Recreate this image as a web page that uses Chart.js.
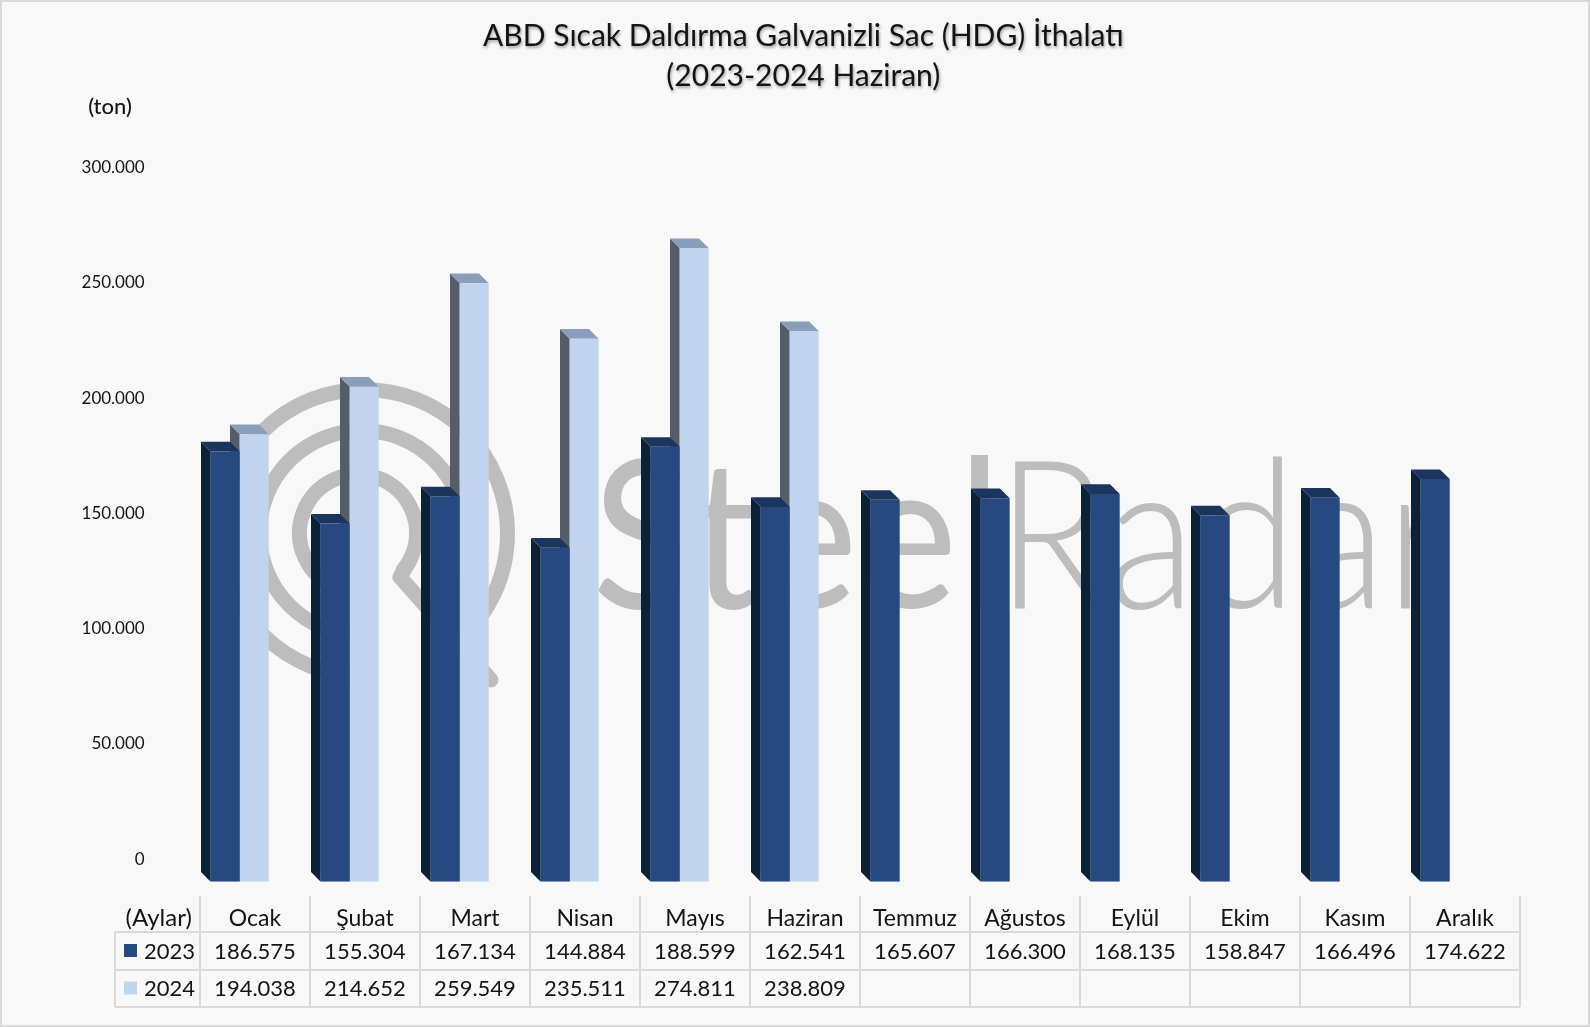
<!DOCTYPE html>
<html lang="tr">
<head>
<meta charset="utf-8">
<title>ABD Sıcak Daldırma Galvanizli Sac (HDG) İthalatı</title>
<script src="https://cdn.jsdelivr.net/npm/chart.js@4"></script>
<style>
html,body{margin:0;padding:0;background:#f8f8f8}
#wrap{position:relative;width:1590px;height:1027px}
</style>
</head>
<body>
<div id="wrap"><canvas id="c"></canvas></div>
<script>
const months = ['Ocak','Şubat','Mart','Nisan','Mayıs','Haziran','Temmuz','Ağustos','Eylül','Ekim','Kasım','Aralık'];
const values2023 = [186575,155304,167134,144884,188599,162541,165607,166300,168135,158847,166496,174622];
const values2024 = [194038,214652,259549,235511,274811,238809,null,null,null,null,null,null];
const seriesNames = ['2023','2024'];
const titleLines = ['ABD Sıcak Daldırma Galvanizli Sac (HDG) İthalatı','(2023-2024 Haziran)'];
const yTickStep = 50000;
const yMax = 300000;

const FONT = 'Lato, Carlito, Calibri, sans-serif';
const INK = '#141414';
const GRID = '#d9d9d9';
const DEPTH = 9.7;
const TABLE_SHIFT = 15.3;   // table cells sit to the right of the bars' front faces
const C23 = {front:'#264a7f', side:'#0c2038', top:'#1b355f'};
const C24 = {front:'#c1d4ee', side:'#555e68', top:'#8a9eba'};
const fmt = v => String(v).replace(/\B(?=(\d{3})+(?!\d))/g,'.');

function poly(ctx, pts, fill){
  ctx.beginPath();
  pts.forEach((p,i)=> i?ctx.lineTo(p[0],p[1]):ctx.moveTo(p[0],p[1]));
  ctx.closePath(); ctx.fillStyle = fill; ctx.fill();
}

const backdrop = {
  id:'backdrop',
  beforeDraw(chart){
    const ctx = chart.ctx, w = chart.width, h = chart.height;
    ctx.save();
    ctx.fillStyle = '#f8f8f8'; ctx.fillRect(0,0,w,h);
    ctx.strokeStyle = GRID; ctx.lineWidth = 2; ctx.strokeRect(1,1,w-2,h-2);
    ctx.restore();
    // text shadow on the title block, and its centring over the plot
    const t = chart.titleBlock;
    if (t && !t._wrapped){
      const d = t.draw.bind(t);
      t.draw = function(){
        const c = this.ctx; c.save();
        c.translate(16,0);
        c.shadowColor='rgba(0,0,0,.35)'; c.shadowBlur=3; c.shadowOffsetX=1; c.shadowOffsetY=1.5;
        d(); c.restore();
      };
      t._wrapped = true;
    }
  },
  beforeDatasetsDraw(chart){
    const ctx = chart.ctx;
    ctx.save();
    // watermark logo
    ctx.strokeStyle = '#bdbdbd'; ctx.lineWidth = 15; ctx.lineCap='round'; ctx.lineJoin='round';
    const cy=533, rad=Math.PI/180;
    [[364,143.5,90,394],[362,102.5,90,380],[358,58.5,110,400]].forEach(([cx,r,a,b])=>{
      ctx.beginPath(); ctx.arc(cx,cy,r,a*rad,b*rad); ctx.stroke();
    });
    ctx.beginPath(); ctx.moveTo(410,560); ctx.lineTo(400,577); ctx.lineTo(491,680); ctx.stroke();
    // watermark word
    ctx.beginPath(); ctx.rect(0,0,1449,1027); ctx.clip();
    ctx.fillStyle = '#bdbdbd'; ctx.textAlign='left'; ctx.textBaseline='alphabetic';
    ctx.font = '400 208px '+FONT;
    ctx.fillText('Steel',592,608,410);
    ctx.font = '300 208px '+FONT;
    ctx.fillText('Radar',996,608,455);
    ctx.restore();
  },
  beforeDatasetDraw(chart,args){
    const ctx = chart.ctx, col = args.index===0?C23:C24;
    ctx.save();
    args.meta.data.forEach((b,i)=>{
      const raw = chart.data.datasets[args.index].data[i];
      if (raw==null) return;
      const l=b.x-b.width/2, r=b.x+b.width/2, t=b.y, bs=b.base, d=DEPTH;
      poly(ctx,[[l-d,t-d],[l,t],[l,bs],[l-d,bs-d]],col.side);
      poly(ctx,[[l-d,t-d],[r-d,t-d],[r,t],[l,t]],col.top);
    });
    ctx.restore();
  },
  afterDraw(chart){
    const ctx = chart.ctx, x = chart.scales.x;
    ctx.save();
    const L=115, C0=x.getPixelForValue(0)+TABLE_SHIFT-55, R=x.getPixelForValue(11)+TABLE_SHIFT+55;
    const yTop=896, y1=932, y2=970, y3=1007;
    ctx.strokeStyle=GRID; ctx.lineWidth=2;
    ctx.beginPath();
    [y1,y2,y3].forEach(y=>{ctx.moveTo(L,y);ctx.lineTo(R,y);});
    ctx.moveTo(L,y1);ctx.lineTo(L,y3);
    for(let i=0;i<=12;i++){const v=C0+110*i;ctx.moveTo(v,yTop);ctx.lineTo(v,y3);}
    ctx.stroke();
    ctx.fillStyle=INK; ctx.textBaseline='middle'; ctx.textAlign='center';
    ctx.font='24px '+FONT;
    ctx.fillText('(Aylar)',158.7,918.5);
    ctx.font='22px '+FONT;
    [[values2023,952],[values2024,988.5]].forEach(([arr,y])=>{
      arr.forEach((v,i)=>{ if(v!=null) ctx.fillText(fmt(v),x.getPixelForValue(i)+TABLE_SHIFT,y); });
    });
    ctx.textAlign='left';
    ctx.fillText(seriesNames[0],144,952); ctx.fillText(seriesNames[1],144,988.5);
    ctx.fillStyle=C23.front; ctx.fillRect(124,944,13,13);
    ctx.fillStyle=C24.front; ctx.fillRect(124,981.5,13,13);
    ctx.fillStyle=INK; ctx.textAlign='center';
    ctx.font='500 22px '+FONT;
    ctx.fillText('(ton)',110,107);
    ctx.restore();
  }
};

new Chart(document.getElementById('c'),{
  type:'bar',
  data:{
    labels:months,
    datasets:[
      {label:seriesNames[0],data:values2023,backgroundColor:C23.front,borderWidth:0},
      {label:seriesNames[1],data:values2024,backgroundColor:C24.front,borderWidth:0}
    ]
  },
  plugins:[backdrop],
  options:{
    responsive:true, maintainAspectRatio:false, animation:false,
    layout:{padding:{left:70,right:85.3,top:0,bottom:0}},
    datasets:{bar:{categoryPercentage:58/110,barPercentage:1}},
    plugins:{
      legend:{display:false}, tooltip:{enabled:false},
      title:{display:true,text:titleLines,color:INK,
        font:{family:FONT,size:30,lineHeight:40/30,weight:'400'},
        padding:{top:16.5,bottom:93.5}}
    },
    scales:{
      x:{
        grid:{display:false},border:{display:false},
        afterFit(s){s.height=1027-881.7;},
        ticks:{color:INK,font:{family:FONT,size:23},padding:15,labelOffset:TABLE_SHIFT,
          maxRotation:0,minRotation:0,autoSkip:false}
      },
      y:{
        min:0,max:yMax,
        grid:{display:false},border:{display:false},
        afterFit(s){s.width=114.7;},
        ticks:{stepSize:yTickStep,color:INK,font:{family:FONT,size:17},padding:32,
          labelOffset:-22.5,callback:v=>fmt(v)}
      }
    }
  }
});
</script>
</body>
</html>
